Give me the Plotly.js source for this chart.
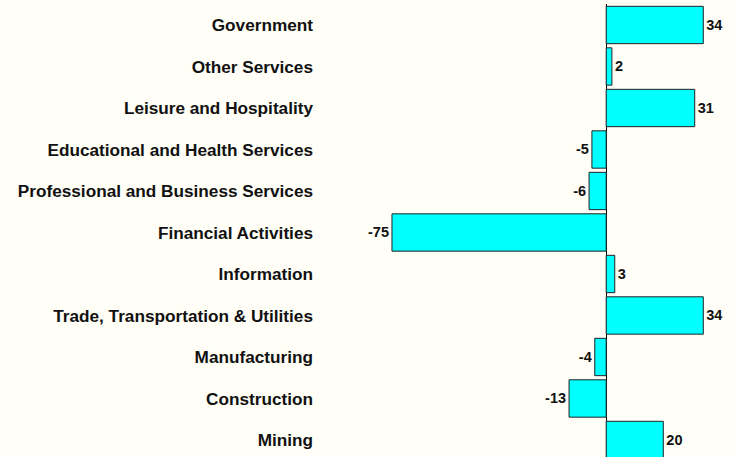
<!DOCTYPE html>
<html>
<head>
<meta charset="utf-8">
<script src="https://cdn.plot.ly/plotly-3.0.1.min.js"></script>
<style>html,body{margin:0;padding:0;background:#fffef7;}</style>
</head>
<body>
<div id="chart" style="width:736px;height:457px;"></div>
<script>
// categories listed bottom to top
const categories = ["Mining","Construction","Manufacturing","Trade, Transportation & Utilities","Information","Financial Activities","Professional and Business Services","Educational and Health Services","Leisure and Hospitality","Other Services","Government"];
const values = [20, -13, -4, 34, 3, -75, -6, -5, 31, 2, 34];
const valueLabels = ["20","-13","-4","34","3","-75","-6","-5","31","2","34"];

const positions = categories.map((c, i) => i);

const trace = {
  type: 'bar',
  orientation: 'h',
  x: values,
  y: positions,
  text: valueLabels,
  textposition: 'outside',
  cliponaxis: false,
  textfont: {family: 'Liberation Sans, Arial, sans-serif', size: 14.5, color: '#111111', weight: 'bold'},
  marker: {color: '#00ffff', line: {color: '#222222', width: 1}},
  hoverinfo: 'none'
};

const layout = {
  width: 736, height: 457,
  margin: {l: 320, r: 0, t: 4, b: 0},
  paper_bgcolor: '#fffef7',
  plot_bgcolor: '#fffef7',
  bargap: 0.1,
  showlegend: false,
  font: {family: 'Liberation Sans, Arial, sans-serif', size: 14, color: '#111111', weight: 'bold'},
  xaxis: {
    range: [-100.2, 45.45],
    showgrid: false, showticklabels: false, ticks: '',
    zeroline: true, zerolinecolor: '#000000', zerolinewidth: 1,
    showline: false, fixedrange: true
  },
  yaxis: {
    range: [-0.41, 10.506],
    tickmode: 'array', tickvals: positions, ticktext: categories,
    ticks: '', showgrid: false, zeroline: false, showline: false,
    ticklabelstandoff: 6,
    tickfont: {family: 'Liberation Sans, Arial, sans-serif', size: 17.2, color: '#111111', weight: 'bold'},
    fixedrange: true
  }
};

Plotly.newPlot('chart', [trace], layout, {displayModeBar: false, staticPlot: true});
</script>
</body>
</html>
